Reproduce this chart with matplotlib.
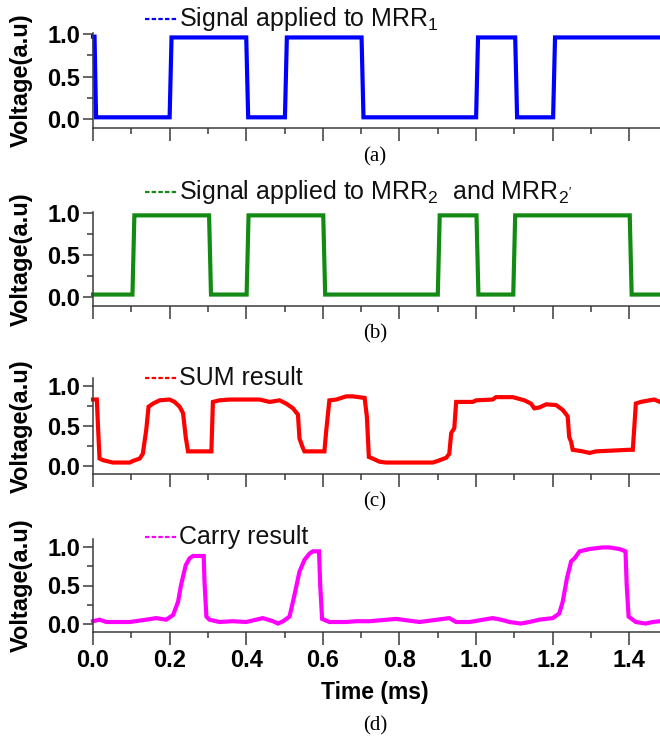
import matplotlib
matplotlib.use("Agg")
import matplotlib.pyplot as plt
from matplotlib.ticker import MultipleLocator
from matplotlib.lines import Line2D

plt.rcParams['font.family'] = ['Liberation Sans', 'DejaVu Sans']
plt.rcParams['mathtext.fontset'] = 'custom'
plt.rcParams['mathtext.rm'] = 'Liberation Sans'
plt.rcParams['mathtext.it'] = 'Liberation Sans:italic'
plt.rcParams['mathtext.bf'] = 'Liberation Sans:bold'

# ---------------- data ----------------
blue_t = [0.000, 0.004, 0.008, 0.200, 0.205, 0.400, 0.405, 0.501, 0.506, 0.701, 0.706,
          1.000, 1.005, 1.102, 1.107, 1.201, 1.206, 1.480]
blue_v = [0.97, 0.97, 0.02, 0.02, 0.96, 0.96, 0.02, 0.02, 0.96, 0.96, 0.02,
          0.02, 0.96, 0.96, 0.02, 0.02, 0.96, 0.96]

green_t = [0.000, 0.103, 0.108, 0.303, 0.308, 0.401, 0.406, 0.601, 0.606, 0.900, 0.905,
           1.001, 1.006, 1.097, 1.102, 1.401, 1.406, 1.480]
green_v = [0.03, 0.03, 0.97, 0.97, 0.03, 0.03, 0.97, 0.97, 0.03, 0.03, 0.97,
           0.97, 0.03, 0.03, 0.97, 0.97, 0.03, 0.03]

sum_t = [0, 0.010, 0.013, 0.017, 0.026, 0.043, 0.052, 0.096, 0.104, 0.122, 0.130, 0.139,
         0.145, 0.157, 0.174, 0.200, 0.213, 0.226, 0.235, 0.242, 0.248, 0.261, 0.309, 0.313,
         0.330, 0.357, 0.400, 0.435, 0.461, 0.487, 0.504, 0.522, 0.535, 0.539, 0.548, 0.552,
         0.604, 0.609, 0.617, 0.635, 0.661, 0.678, 0.709, 0.715, 0.720, 0.730, 0.748, 0.765,
         0.887, 0.900, 0.922, 0.930, 0.935, 0.943, 0.948, 0.991, 1.000, 1.043, 1.052, 1.096,
         1.126, 1.143, 1.152, 1.165, 1.183, 1.209, 1.226, 1.239, 1.243, 1.248, 1.252, 1.278,
         1.296, 1.313, 1.400, 1.409, 1.413, 1.417, 1.430, 1.452, 1.465, 1.480]
sum_v = [0.83, 0.83, 0.50, 0.09, 0.07, 0.05, 0.04, 0.04, 0.06, 0.09, 0.15, 0.45,
         0.74, 0.78, 0.82, 0.83, 0.80, 0.74, 0.66, 0.36, 0.18, 0.18, 0.18, 0.80,
         0.82, 0.83, 0.83, 0.83, 0.80, 0.82, 0.78, 0.72, 0.64, 0.34, 0.22, 0.18,
         0.18, 0.45, 0.82, 0.83, 0.87, 0.87, 0.85, 0.61, 0.11, 0.09, 0.05, 0.04,
         0.04, 0.06, 0.10, 0.15, 0.41, 0.47, 0.80, 0.80, 0.82, 0.83, 0.86, 0.86,
         0.82, 0.78, 0.72, 0.73, 0.77, 0.76, 0.70, 0.62, 0.36, 0.30, 0.20, 0.18,
         0.16, 0.18, 0.20, 0.20, 0.49, 0.78, 0.80, 0.82, 0.83, 0.80]

carry_t = [0, 0.017, 0.035, 0.070, 0.096, 0.139, 0.165, 0.191, 0.209, 0.222,
           0.230, 0.242, 0.252, 0.261, 0.289, 0.291, 0.296, 0.304, 0.330, 0.365,
           0.400, 0.443, 0.470, 0.483, 0.496, 0.513, 0.526, 0.539, 0.552, 0.565,
           0.574, 0.590, 0.593, 0.598, 0.617, 0.661, 0.687, 0.722, 0.791, 0.852,
           0.930, 0.948, 0.983, 1.043, 1.065, 1.087, 1.117, 1.139, 1.165, 1.200,
           1.217, 1.226, 1.237, 1.248, 1.257, 1.270, 1.296, 1.330, 1.348, 1.374,
           1.390, 1.393, 1.398, 1.417, 1.443, 1.461, 1.480]
carry_v = [0.04, 0.06, 0.03, 0.03, 0.03, 0.06, 0.08, 0.06, 0.12, 0.29,
           0.51, 0.76, 0.85, 0.88, 0.88, 0.55, 0.10, 0.06, 0.03, 0.04,
           0.03, 0.08, 0.04, 0.01, 0.04, 0.10, 0.38, 0.68, 0.83, 0.91,
           0.94, 0.94, 0.51, 0.07, 0.03, 0.03, 0.04, 0.04, 0.07, 0.03,
           0.08, 0.03, 0.03, 0.08, 0.06, 0.03, 0.01, 0.03, 0.06, 0.08,
           0.14, 0.29, 0.59, 0.81, 0.85, 0.94, 0.97, 0.99, 0.99, 0.97,
           0.94, 0.51, 0.10, 0.03, 0.01, 0.03, 0.04]

y_ticks = [0.0, 0.5, 1.0]
x_ticks = [0.0, 0.2, 0.4, 0.6, 0.8, 1.0, 1.2, 1.4]
legend_texts = [r'Signal applied to MRR$_\mathregular{1}$',
                r"Signal applied to MRR$_\mathregular{2}$  and MRR$_\mathregular{2'}$",
                'SUM result', 'Carry result']
panel_labels = ['(a)', '(b)', '(c)', '(d)']
colors = ['#0000ff', '#138a13', '#ff0000', '#ff00ff']

# ---------------- layout (pixels from top) ----------------
W, H = 660, 744
fig = plt.figure(figsize=(W / 100, H / 100), dpi=100)

left = 93 / W
width = (W - 93) / W
# (top_px, bottom_px, ylim)
panels = [(33.2, 127.5, (-0.1, 1.01)),
          (212.0, 305.5, (-0.1, 1.01)),
          (378.0, 473.7, (-0.1, 1.10)),
          (538.9, 632.1, (-0.1, 1.10))]
series = [(blue_t, blue_v), (green_t, green_v), (sum_t, sum_v), (carry_t, carry_v)]
legend_base = [26, 199, 385, 544]
label_y = [157, 334, 502, 726]

spine_col = '#3a3a3a'
for i, ((top, bot, yl), (t, v)) in enumerate(zip(panels, series)):
    ax = fig.add_axes([left, 1 - bot / H, width, (bot - top) / H])
    ax.plot(t, v, color=colors[i], lw=3.0, clip_on=False, solid_joinstyle='miter')
    ax.set_xlim(0, 1.48)
    ax.set_ylim(*yl)
    ax.set_yticks(y_ticks)
    ax.set_yticklabels([f'{y:.1f}' for y in y_ticks])
    ax.yaxis.set_minor_locator(MultipleLocator(0.25))
    ax.set_xticks(x_ticks)
    ax.xaxis.set_minor_locator(MultipleLocator(0.1))
    for s in ['top', 'right']:
        ax.spines[s].set_visible(False)
    for s in ['left', 'bottom']:
        ax.spines[s].set_color(spine_col)
        ax.spines[s].set_linewidth(1.1)
    ax.tick_params(axis='both', which='major', direction='out', color=spine_col,
                   width=1.1, labelsize=17)
    ax.tick_params(axis='x', which='major', length=9, pad=3)
    ax.tick_params(axis='y', which='major', length=7, pad=2)
    ax.tick_params(axis='x', which='minor', length=4.5, width=1.1, color=spine_col)
    ax.tick_params(axis='y', which='minor', length=4.5, width=1.1, color=spine_col)
    for lab in ax.get_yticklabels() + ax.get_xticklabels():
        lab.set_fontweight('bold')
    if i < 3:
        ax.tick_params(axis='x', labelbottom=False)
    ax.set_ylabel('Voltage(a.u)', fontsize=17, fontweight='bold')
    ax.yaxis.set_label_coords((33 - 93) / (W - 93), 0.5)

    # legend-like annotation
    yb = 1 - legend_base[i] / H
    ydash = 1 - (legend_base[i] - 7) / H
    fig.add_artist(Line2D([145 / W, 177 / W], [ydash, ydash], color=colors[i],
                          lw=1.6, linestyle=(0, (2.0, 1.0))))
    fig.text(179 / W, yb, legend_texts[i], fontsize=18, va='baseline', ha='left',
             color='#111111')

    fig.text(375 / W, 1 - label_y[i] / H, panel_labels[i], fontsize=15,
             family='Liberation Serif', ha='center', va='center')

fig.text(375 / W, 1 - 692 / H, 'Time (ms)', fontsize=16.5, fontweight='bold',
         ha='center', va='center')

fig.savefig('out.png', dpi=100)
